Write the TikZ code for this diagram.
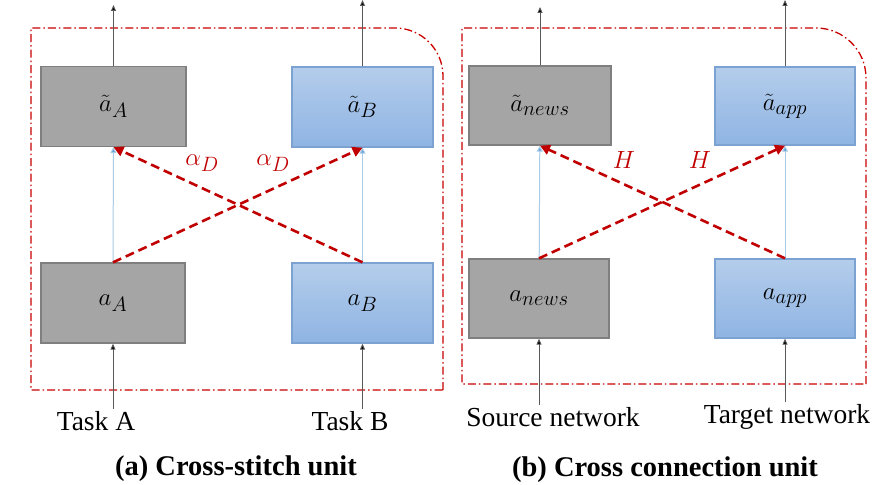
\documentclass[tikz,border=0pt]{standalone}
\usepackage{fontspec}
\setmainfont{Liberation Serif}
\usetikzlibrary{arrows.meta}
\definecolor{gris}{HTML}{A5A5A5}
\definecolor{grisbord}{HTML}{7F7F7F}
\definecolor{bleuhaut}{HTML}{B4CDEB}
\definecolor{bleubas}{HTML}{8FB4E3}
\definecolor{bleubord}{HTML}{7BA2D1}
\definecolor{bleufil}{HTML}{A9CBE6}
\definecolor{bleupointe}{HTML}{5B9BD5}
\definecolor{rouge}{HTML}{C00000}
\begin{document}
\begin{tikzpicture}[x=1pt, y=-1pt]
\tikzset{boite/.style={minimum width=141pt, minimum height=80pt, inner sep=0pt, line width=1.3pt, font=\fontsize{31}{36}\selectfont},
  boitegris/.style={boite, draw=grisbord, fill=gris},
  boitebleu/.style={boite, draw=bleubord, top color=bleuhaut, bottom color=bleubas},
  fleche/.style={draw=black!65, line width=0.9pt, -{Triangle[length=6pt, width=5pt, fill=black]}},
  flechebleu/.style={draw=bleufil, line width=1pt, -{Triangle[length=6pt, width=6pt, fill=bleupointe]}},
  flecherouge/.style={draw=rouge, line width=2.6pt, dash pattern=on 9pt off 5pt, -{Triangle[length=10pt, width=10pt]}},
  cadre/.style={draw=rouge!85!red, line width=1.3pt, dash pattern=on 8pt off 3pt on 1.5pt off 3pt},
  etiq/.style={inner sep=2pt, font=\fontsize{27.5}{32}\selectfont},
  poids/.style={text=rouge, font=\fontsize{31}{36}\selectfont},
  legende/.style={font=\fontsize{28.5}{33}\selectfont\bfseries}}
\useasboundingbox (0,0) rectangle (890,484);
% (a) cross-stitch
\draw[cadre] (443,390) -- (443,200) [rounded corners=48pt] -- (443,28) -- (300,28) [sharp corners] -- (31,28) -- (31,390) -- cycle;
\node[boitegris, minimum width=145pt] (AT) at (113.5,106.5) {$\tilde{a}_A$};
\node[boitebleu] (BT) at (362.5,107) {$\tilde{a}_B$};
\node[boitegris, minimum width=144pt] (A) at (113,303) {$a_A$};
\node[boitebleu] (B) at (362.5,303) {$a_B$};
\coordinate (sA) at (113.5,5);
\coordinate (sB) at (362.5,0);
\node[etiq] (tA) at (96,421) {Task A};
\node[etiq] (tB) at (350,421) {Task B};
\draw[fleche] (AT) -- (sA);
\draw[fleche] (BT) -- (sB);
\draw[fleche] (tA.north -| A.south) -- (A);
\draw[fleche] (tB.north -| B.south) -- (B);
\draw[flechebleu] (A) -- (AT);
\draw[flechebleu] (B) -- (BT);
\draw[flecherouge] (A.north) -- (BT.south);
\draw[flecherouge] (B.north) -- (AT.south);
\node[poids] (pA) at (202,163) {$\alpha_D$};
\node[poids] (pB) at (273,163) {$\alpha_D$};
\node[legende] (la) at (236,469) {(a) Cross-stitch unit};
% (b) cross connection
\draw[cadre] (866,384) -- (866,200) [rounded corners=50pt] -- (866,28) -- (700,28) [sharp corners] -- (462,28) -- (462,384) -- cycle;
\node[boitegris, minimum width=142pt, minimum height=79pt] (NT) at (540,105.5) {$\tilde{a}_{news}$};
\node[boitebleu, minimum width=140pt, minimum height=78pt] (PT) at (785,106) {$\tilde{a}_{app}$};
\node[boitegris, minimum width=140pt, minimum height=79pt] (N) at (539,298.5) {$a_{news}$};
\node[boitebleu, minimum width=140pt, minimum height=79pt] (P) at (785,298.5) {$a_{app}$};
\coordinate (sN) at (540,7);
\coordinate (sP) at (785,0);
\node[etiq] (tN) at (553,417) {Source network};
\node[etiq] (tP) at (787,417) {Target network};
\draw[fleche] (NT) -- (sN);
\draw[fleche] (PT) -- (sP);
\draw[fleche] (tN.north -| N.south) -- (N);
\draw[fleche] (tP.north -| P.south) -- (P);
\draw[flechebleu] (N) -- (NT);
\draw[flechebleu] (P) -- (PT);
\draw[flecherouge] (N.north) -- (PT.south);
\draw[flecherouge] (P.north) -- (NT.south);
\node[poids] (hN) at (624,160) {$H$};
\node[poids] (hP) at (700,160) {$H$};
\node[legende] (lb) at (665,470) {(b) Cross connection unit};
\end{tikzpicture}
\end{document}
